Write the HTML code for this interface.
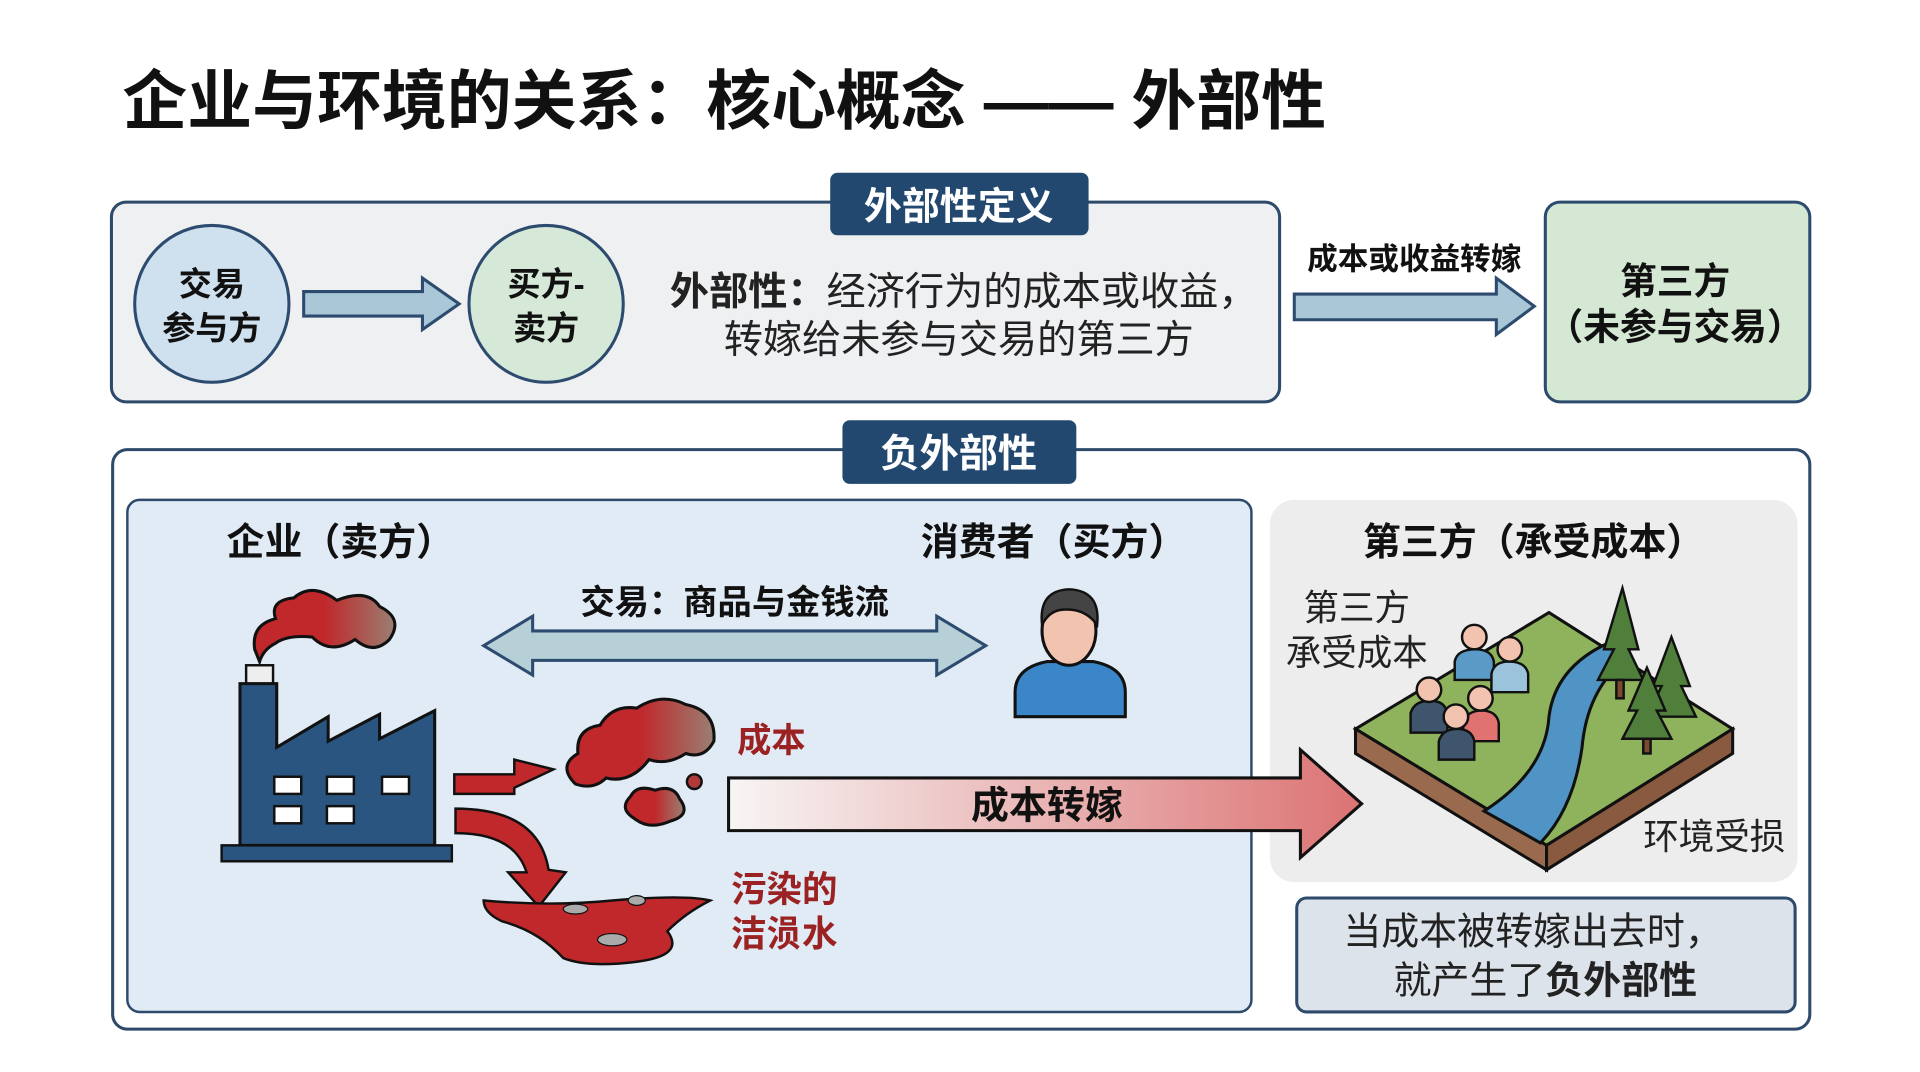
<!DOCTYPE html>
<html><head><meta charset="utf-8"><style>
html,body{margin:0;padding:0;background:#fff;}
svg{display:block;}
text{font-family:"Liberation Sans","Noto Sans CJK SC",sans-serif;}
</style></head><body>
<svg width="1920" height="1072" viewBox="0 0 1568 875" preserveAspectRatio="none" xmlns="http://www.w3.org/2000/svg">
<defs>
<linearGradient id="g1" x1="0" x2="1" y1="0" y2="0"><stop offset="0" stop-color="#f7f5f5"/><stop offset="1" stop-color="#dc7373"/></linearGradient>
<linearGradient id="cl" x1="0" x2="1"><stop offset="0.5" stop-color="#c0282b"/><stop offset="1" stop-color="#9a7f72"/></linearGradient>
</defs>
<rect width="1568" height="875" fill="#fff"/>
<text x="100" y="101" font-size="53" font-weight="bold" fill="#111" textLength="983" lengthAdjust="spacing">企业与环境的关系：核心概念 —— 外部性</text>

<rect x="91" y="165" width="954" height="163" rx="12" fill="#eff0f2" stroke="#2d4a6b" stroke-width="2.5"/>
<rect x="678" y="141" width="211" height="51" rx="6" fill="#22486f"/>
<text x="783" y="179" font-size="31" font-weight="bold" fill="#fff" text-anchor="middle">外部性定义</text>
<ellipse cx="173" cy="248" rx="63" ry="64" fill="#cfe0ef" stroke="#2c4b6e" stroke-width="2.5"/>
<text x="173" y="241" font-size="27" font-weight="bold" text-anchor="middle" fill="#111">交易</text>
<text x="173" y="277" font-size="27" font-weight="bold" text-anchor="middle" fill="#111">参与方</text>
<path d="M248 238 H345 V227 L375 248 L345 269 V258 H248 Z" fill="#a9c7d6" stroke="#2c4b6e" stroke-width="2.5"/>
<ellipse cx="446" cy="248" rx="63" ry="64" fill="#d6e8d8" stroke="#2c4b6e" stroke-width="2.5"/>
<text x="446" y="241" font-size="27" font-weight="bold" text-anchor="middle" fill="#111">买方-</text>
<text x="446" y="277" font-size="27" font-weight="bold" text-anchor="middle" fill="#111">卖方</text>
<text x="787" y="249" font-size="32" text-anchor="middle" fill="#222"><tspan font-weight="bold">外部性：</tspan>经济行为的成本或收益，</text>
<text x="783" y="288" font-size="32" text-anchor="middle" fill="#222">转嫁给未参与交易的第三方</text>
<text x="1155" y="220" font-size="25" font-weight="bold" text-anchor="middle" fill="#111">成本或收益转嫁</text>
<path d="M1057 240 H1222 V227 L1253 250 L1222 273 V261 H1057 Z" fill="#a9c7d6" stroke="#2c4b6e" stroke-width="2.5"/>
<rect x="1262" y="165" width="216" height="163" rx="12" fill="#d5e8d4" stroke="#2c4b6e" stroke-width="2.5"/>
<text x="1368" y="240" font-size="30" font-weight="bold" text-anchor="middle" fill="#111">第三方</text>
<text x="1368" y="277" font-size="30" font-weight="bold" text-anchor="middle" fill="#111">（未参与交易）</text>

<rect x="92" y="367" width="1386" height="473" rx="12" fill="#fff" stroke="#2d4a6b" stroke-width="2.5"/>
<rect x="104" y="408" width="918" height="418" rx="10" fill="#e1ebf5" stroke="#2d4a6b" stroke-width="2"/>
<rect x="1037" y="408" width="431" height="312" rx="20" fill="#ededed"/>
<rect x="1059" y="733" width="407" height="93" rx="8" fill="#dde3ea" stroke="#2d4a6b" stroke-width="2.5"/>
<rect x="688" y="343" width="191" height="52" rx="6" fill="#22486f"/>
<text x="783" y="381" font-size="32" font-weight="bold" fill="#fff" text-anchor="middle">负外部性</text>

<text x="185" y="453" font-size="31" font-weight="bold" fill="#111">企业（卖方）</text>
<text x="752" y="453" font-size="31" font-weight="bold" fill="#111">消费者（买方）</text>
<text x="1113" y="453" font-size="31" font-weight="bold" fill="#111">第三方（承受成本）</text>
<text x="600" y="501" font-size="28" font-weight="bold" text-anchor="middle" fill="#111">交易：商品与金钱流</text>
<path d="M395 527 L435 503 V515 H765 V503 L805 527 L765 551 V539 H435 V551 Z" fill="#b7d0d8" stroke="#2c4b6e" stroke-width="2.5"/>

<path d="M829 585 V565 Q829 545 855 540 H893 Q919 545 919 565 V585 Z" fill="#3a86c8" stroke="#111" stroke-width="2.5"/>
<ellipse cx="873" cy="515" rx="22" ry="28" fill="#f2c4b0" stroke="#111" stroke-width="2.5"/>
<path d="M851 510 Q848 482 873 481 Q899 482 896 510 Q885 495 865 498 Q856 500 851 510 Z" fill="#444" stroke="#111" stroke-width="2"/>

<path d="M208 530 Q205 510 225 505 Q220 490 240 488 Q255 475 275 490 Q300 480 310 495 Q330 505 318 522 Q305 535 290 522 Q270 535 255 520 Q235 518 225 525 Q215 530 212 540 Z" fill="url(#cl)" stroke="#111" stroke-width="2.5"/>
<rect x="201" y="543" width="22" height="15" fill="#eee" stroke="#111" stroke-width="2"/>
<path d="M196 558 H226 V610 L268 585 V605 L310 583 V603 L355 580 V690 H196 Z" fill="#2a5580" stroke="#111" stroke-width="2.5"/>
<g fill="#fff" stroke="#111" stroke-width="2">
<rect x="224" y="634" width="22" height="14"/><rect x="267" y="634" width="22" height="14"/><rect x="312" y="634" width="22" height="14"/>
<rect x="224" y="658" width="22" height="14"/><rect x="267" y="658" width="22" height="14"/>
</g>
<rect x="181" y="690" width="188" height="13" fill="#2a5580" stroke="#111" stroke-width="2"/>
<path d="M371 632 H420 V620 L452 628 L420 643 V648 H371 Z" fill="#c0282b" stroke="#111" stroke-width="2"/>
<path d="M372 660 Q440 660 448 710 L462 712 L440 740 L415 712 L430 712 Q420 680 372 680 Z" fill="#c0282b" stroke="#111" stroke-width="2"/>
<path d="M395 735 Q450 740 500 735 Q560 730 580 735 Q560 745 545 760 Q560 780 520 785 Q480 790 460 782 Q440 760 410 752 Q395 745 395 735 Z" fill="#c0282b" stroke="#111" stroke-width="2"/>
<ellipse cx="470" cy="742" rx="10" ry="4" fill="#aaa" stroke="#111"/><ellipse cx="500" cy="767" rx="12" ry="5" fill="#aaa" stroke="#111"/><ellipse cx="520" cy="735" rx="7" ry="4" fill="#aaa" stroke="#111"/>
<path d="M470 640 Q455 625 472 615 Q470 595 490 592 Q500 575 520 578 Q540 565 560 575 Q585 580 583 605 Q575 620 560 615 Q545 625 530 620 Q515 640 495 635 Q485 645 470 640 Z" fill="url(#cl)" stroke="#111" stroke-width="2.5"/>
<path d="M518 668 Q505 660 515 650 Q520 640 535 645 Q550 640 555 652 Q565 665 548 670 Q530 678 518 668 Z" fill="url(#cl)" stroke="#111" stroke-width="2.5"/>
<circle cx="567" cy="638" r="6" fill="#b03a3a" stroke="#111" stroke-width="2"/>
<text x="602" y="614" font-size="28" font-weight="bold" fill="#9b2222">成本</text>
<text x="597" y="736" font-size="29" font-weight="bold" fill="#9b2222">污染的</text>
<text x="597" y="772" font-size="29" font-weight="bold" fill="#9b2222">洁涢水</text>

<path d="M595 635 H1062 V612 L1112 656 L1062 700 V678 H595 Z" fill="url(#g1)" stroke="#111" stroke-width="2.5"/>
<text x="855" y="668" font-size="31" font-weight="bold" text-anchor="middle" fill="#111">成本转嫁</text>

<path d="M1107 595 L1265 500 L1415 595 L1263 690 Z" fill="#8fb35c" stroke="#111" stroke-width="2.5"/>
<path d="M1107 595 V615 L1263 710 V690 Z" fill="#9a6a4e" stroke="#111" stroke-width="2.5"/>
<path d="M1263 690 V710 L1415 615 V595 Z" fill="#8a5a40" stroke="#111" stroke-width="2.5"/>
<path d="M1313 525 Q1270 545 1265 585 Q1262 630 1212 662 L1258 688 Q1285 660 1292 610 Q1296 565 1325 540 Z" fill="#4f94c4" stroke="#111" stroke-width="2.5"/>
<g stroke="#111" stroke-width="2">
<path d="M1325 480 L1310 530 H1318 L1305 555 H1342 L1330 530 H1338 Z" fill="#4f7f3a"/><rect x="1320" y="555" width="6" height="15" fill="#7a4a30"/>
<path d="M1365 520 L1350 560 H1357 L1345 585 H1385 L1373 560 H1380 Z" fill="#4f7f3a"/>
<path d="M1345 545 L1330 580 H1337 L1325 603 H1365 L1353 580 H1360 Z" fill="#4f7f3a"/><rect x="1342" y="603" width="6" height="12" fill="#7a4a30"/>
</g>
<g stroke="#111" stroke-width="2">
<path d="M1188 555 V540 Q1190 530 1205 530 Q1218 530 1220 540 V555 Z" fill="#5b9ac7"/><circle cx="1204" cy="520" r="10" fill="#f2c4b0"/>
<path d="M1218 565 V550 Q1220 540 1232 540 Q1246 540 1248 550 V565 Z" fill="#9bc4dc"/><circle cx="1233" cy="530" r="10" fill="#f2c4b0"/>
<path d="M1152 598 V582 Q1155 572 1168 572 Q1180 572 1182 582 V598 Z" fill="#3f556e"/><circle cx="1167" cy="563" r="10" fill="#f2c4b0"/>
<path d="M1195 605 V590 Q1198 580 1210 580 Q1222 580 1224 590 V605 Z" fill="#e07272"/><circle cx="1209" cy="570" r="10" fill="#f2c4b0"/>
<path d="M1175 620 V605 Q1178 595 1190 595 Q1202 595 1204 605 V620 Z" fill="#3f556e"/><circle cx="1189" cy="585" r="10" fill="#f2c4b0"/>
</g>
<text x="1108" y="506" font-size="29" text-anchor="middle" fill="#222">第三方</text>
<text x="1108" y="543" font-size="29" text-anchor="middle" fill="#222">承受成本</text>
<text x="1400" y="693" font-size="29" text-anchor="middle" fill="#222">环境受损</text>
<text x="1252" y="771" font-size="31" text-anchor="middle" fill="#222">当成本被转嫁出去时，</text>
<text x="1262" y="811" font-size="31" text-anchor="middle" fill="#222">就产生了<tspan font-weight="bold">负外部性</tspan></text>
</svg>
</body></html>
